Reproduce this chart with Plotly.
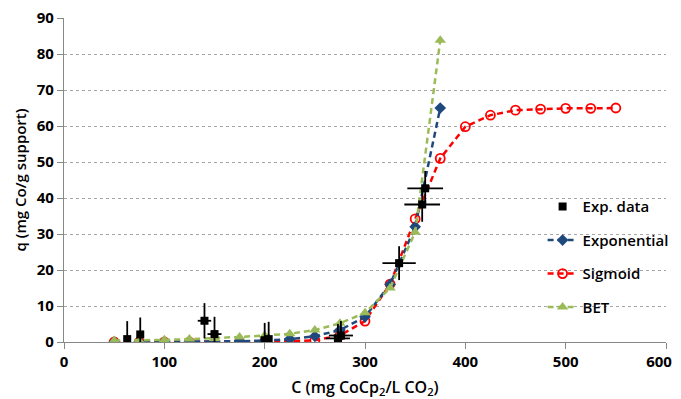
import plotly.graph_objects as go

# Model curves
fit_x = [50, 75, 100, 125, 150, 175, 200, 225, 250, 275, 300, 325, 350, 375]
exponential_q = [0.0, 0.0, 0.05, 0.1, 0.1, 0.2, 0.4, 0.8, 1.6, 3.3, 7.0, 16.0, 32.0, 65.0]
bet_q = [0.4, 0.4, 0.6, 0.8, 1.0, 1.4, 1.8, 2.3, 3.3, 5.2, 8.1, 15.0, 30.5, 83.8]

sig_x = [50, 75, 100, 125, 150, 175, 200, 225, 250, 275, 300, 325, 350, 375, 400,
         425, 450, 475, 500, 525, 550]
sigmoid_q = [0.0, 0.0, 0.0, 0.0, 0.0, 0.0, 0.1, 0.2, 0.5, 1.8, 5.8, 16.1, 34.2, 51.0,
             59.8, 63.0, 64.4, 64.7, 64.9, 64.9, 65.0]

# Experimental data
exp_x = [63, 76, 140, 150, 200, 204, 273, 276, 334, 357, 360]
exp_q = [0.8, 2.1, 5.9, 2.2, 0.5, 0.8, 1.0, 1.8, 21.9, 38.2, 42.7]
exp_q_err = [5.0, 4.7, 4.9, 4.8, 4.8, 4.8, 4.0, 4.0, 4.7, 4.8, 4.8]
exp_x_err = [0, 0, 6.7, 7.0, 0, 0, 12.0, 12.0, 16.6, 17.8, 17.8]

# Tick labels
x_tick_vals = [0, 100, 200, 300, 400, 500, 600]
x_tick_labels = ["0", "100", "200", "300", "400", "500", "600"]

FONT = "Open Sans"
BLUE = "#1F497D"
RED = "#FF0000"
GREEN = "#9BBB59"
TICKFONT = dict(family=FONT, size=15, weight="bold", color="black")

fig = go.Figure()

fig.add_trace(go.Scatter(
    x=sig_x, y=sigmoid_q, name="Sigmoid", mode="lines+markers",
    line=dict(color=RED, width=2.5, dash="6px,4px"),
    marker=dict(symbol="circle-open", size=9, color=RED, line=dict(width=1.8)),
    legendgroup="c", legendrank=3))
fig.add_trace(go.Scatter(
    x=fit_x, y=exponential_q, name="Exponential", mode="lines+markers",
    line=dict(color=BLUE, width=2.5, dash="6px,4px"),
    marker=dict(symbol="diamond", size=9, color=BLUE),
    legendgroup="b", legendrank=2))
fig.add_trace(go.Scatter(
    x=fit_x, y=bet_q, name="BET", mode="lines+markers",
    line=dict(color=GREEN, width=2.5, dash="6px,4px"),
    marker=dict(symbol="triangle-up", size=10, color=GREEN),
    legendgroup="d", legendrank=4))
fig.add_trace(go.Scatter(
    x=exp_x, y=exp_q, name="Exp. data", mode="markers",
    marker=dict(symbol="square", size=8, color="black"),
    error_y=dict(type="data", array=exp_q_err, color="black", thickness=1.8, width=0),
    error_x=dict(type="data", array=exp_x_err, color="black", thickness=1.8, width=0),
    legendgroup="a", legendrank=1))
# empty helper trace so the overlay axis carrying the last tick label is drawn
fig.add_trace(go.Scatter(x=[], y=[], xaxis="x2", showlegend=False, hoverinfo="skip"))

# the page body adds an 8px offset, so the figure is sized to fit inside the window
fig.update_layout(
    width=673, height=391,
    margin=dict(l=56, r=15, t=10, b=57, autoexpand=False),
    paper_bgcolor="white", plot_bgcolor="white",
    font=dict(family=FONT, color="black", size=14),
    legend=dict(x=0.795, y=0.468, xanchor="left", yanchor="top",
                font=dict(family=FONT, size=15, color="black", weight=600),
                tracegroupgap=11, bgcolor="rgba(0,0,0,0)"),
    xaxis=dict(range=[0, 600], tickvals=x_tick_vals,
               ticktext=x_tick_labels[:-1] + [""],
               showgrid=False, automargin=False,
               showline=True, linecolor="#888888", linewidth=1.2,
               ticks="outside", ticklen=6, tickcolor="#888888",
               ticklabeloverflow="allow", tickfont=TICKFONT,
               title=dict(text="C (mg CoCp<sub>2</sub>/L CO<sub>2</sub>)",
                          font=dict(family=FONT, size=16, weight=600), standoff=17),
               zeroline=False),
    xaxis2=dict(range=[0, 600], overlaying="x", anchor="y", side="bottom",
                tickvals=x_tick_vals[-1:], ticktext=x_tick_labels[-1:],
                showgrid=False, showline=False, zeroline=False, automargin=False,
                ticks="outside", ticklen=6, tickcolor="rgba(0,0,0,0)",
                ticklabelshift=-7, ticklabeloverflow="allow", tickfont=TICKFONT),
    yaxis=dict(range=[0, 90], dtick=10, showgrid=True, gridcolor="#A6A6A6",
               griddash="3px,3px", gridwidth=1, automargin=False,
               showline=True, linecolor="#888888", linewidth=1.2,
               ticks="outside", ticklen=6, tickcolor="#888888",
               ticklabeloverflow="allow", tickfont=TICKFONT,
               title=dict(text="q (mg Co/g support)",
                          font=dict(family=FONT, size=15, weight=600), standoff=6),
               zeroline=False),
)

fig.write_html("out.html")
